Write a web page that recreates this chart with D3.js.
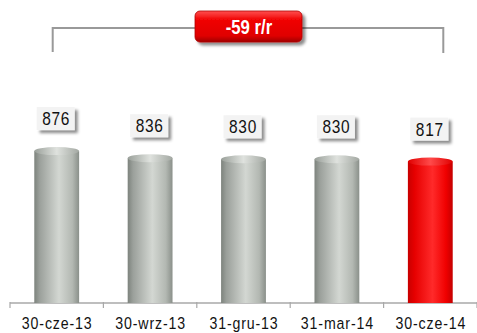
<!DOCTYPE html>
<html lang="pl">
<head>
<meta charset="UTF-8">
<script src="https://d3js.org/d3.v7.min.js"></script>
<style>
  body { margin: 0; background: #fff; }
  svg { display: block; font-family: "Liberation Sans", Arial, sans-serif; }
</style>
</head>
<body>
<svg id="chart" width="477" height="333"></svg>
<script>
// ---- data ----
const categories = ["30-cze-13", "30-wrz-13", "31-gru-13", "31-mar-14", "30-cze-14"];
const values = [876, 836, 830, 830, 817];
const highlightIndex = 4;
const changeLabel = "-59 r/r";

// ---- layout ----
const baseY = 303;
const svg = d3.select("#chart");

const x = d3.scaleBand().domain(categories).range([10, 477]).paddingInner(0.52).paddingOuter(0.26);
const xTicks = d3.scaleBand().domain(categories).range([10, 477]);
const y = d3.scaleLinear().domain([0, 1000]).range([baseY, baseY - 178]);

const defs = svg.append("defs");
const grad = (id, stops) => {
  const g = defs.append("linearGradient").attr("id", id).attr("x1", "0%").attr("x2", "100%").attr("y1", "0%").attr("y2", "0%");
  stops.forEach(([o, c]) => g.append("stop").attr("offset", o).attr("stop-color", c));
};
grad("grayBar", [["0%", "#7d837d"], ["12%", "#9ba09b"], ["55%", "#d3d7d2"], ["85%", "#b3b8b2"], ["100%", "#8a908a"]]);
grad("redBar", [["0%", "#c80000"], ["15%", "#e60000"], ["55%", "#ff2a2a"], ["85%", "#f00000"], ["100%", "#c40000"]]);
grad("grayCap", [["0%", "#9aa09a"], ["50%", "#dfe2de"], ["100%", "#a3a8a2"]]);
grad("redCap", [["0%", "#e00000"], ["50%", "#ff4a4a"], ["100%", "#e00000"]]);

const vg = defs.append("linearGradient").attr("id", "badge").attr("x1", "0").attr("x2", "0").attr("y1", "0").attr("y2", "1");
[["0%", "#ff5050"], ["30%", "#f00000"], ["80%", "#e00000"], ["100%", "#a00000"]].forEach(([o, c]) => vg.append("stop").attr("offset", o).attr("stop-color", c));

const shadow = defs.append("filter").attr("id", "shadow").attr("x", "-20%").attr("y", "-20%").attr("width", "150%").attr("height", "160%");
shadow.append("feDropShadow").attr("dx", 3).attr("dy", 3).attr("stdDeviation", 1.6).attr("flood-color", "#000").attr("flood-opacity", 0.45);

// narrow text: squeeze the glyphs horizontally
const narrow = (sel, sx) => sel.attr("transform", function () {
  const t = d3.select(this);
  return `translate(${t.attr("data-x")},${t.attr("data-y")}) scale(${sx},1)`;
});

// ---- axis ----
svg.append("line").attr("x1", 10).attr("x2", 477).attr("y1", baseY).attr("y2", baseY)
  .attr("stroke", "#a8a8a8").attr("stroke-width", 1.5);
const tickXs = categories.map(c => xTicks(c)).concat([xTicks(categories[categories.length - 1]) + xTicks.bandwidth()]);
svg.selectAll(".tick").data(tickXs).join("line")
  .attr("x1", d => d).attr("x2", d => d).attr("y1", baseY - 1).attr("y2", baseY + 5)
  .attr("stroke", "#a8a8a8").attr("stroke-width", 1.2);

svg.selectAll(".cat").data(categories).join("text")
  .attr("data-x", d => xTicks(d) + xTicks.bandwidth() / 2 + 0.5)
  .attr("data-y", 329)
  .attr("text-anchor", "middle")
  .attr("font-size", 16.5)
  .attr("letter-spacing", 1)
  .attr("fill", "#111")
  .text(d => d)
  .call(narrow, 0.86);

// ---- bars ----
const capRy = 4;
const bars = svg.selectAll(".bar").data(values).join("g");
bars.append("rect")
  .attr("x", (d, i) => x(categories[i]))
  .attr("y", d => y(d) + capRy)
  .attr("width", x.bandwidth())
  .attr("height", d => baseY - y(d) - capRy)
  .attr("fill", (d, i) => i === highlightIndex ? "url(#redBar)" : "url(#grayBar)");
bars.append("ellipse")
  .attr("cx", (d, i) => x(categories[i]) + x.bandwidth() / 2)
  .attr("cy", d => y(d) + capRy)
  .attr("rx", x.bandwidth() / 2)
  .attr("ry", capRy)
  .attr("fill", (d, i) => i === highlightIndex ? "url(#redCap)" : "url(#grayCap)");

// ---- value labels ----
const labelW = 38, labelH = 23;
const labels = svg.selectAll(".val").data(values).join("g")
  .attr("transform", (d, i) => `translate(${x(categories[i]) + x.bandwidth() / 2 - labelW / 2 - 1},${y(d) - 17 - labelH})`);
labels.append("rect").attr("width", labelW).attr("height", labelH)
  .attr("fill", "#f3f3f3").attr("filter", "url(#shadow)");
labels.append("text").attr("data-x", labelW / 2 + 0.5).attr("data-y", 18).attr("text-anchor", "middle")
  .attr("font-size", 18).attr("letter-spacing", 0.8).attr("fill", "#111").text(d => d)
  .call(narrow, 0.86);

// ---- change bracket ----
const x0 = x(categories[0]) + x.bandwidth() / 2 - 4;
const x1 = x(categories[categories.length - 1]) + x.bandwidth() / 2 + 13;
const bY = 28;
svg.append("path")
  .attr("d", `M${x0},52 V${bY} H195 M302,${bY} H${x1} V53`)
  .attr("fill", "none").attr("stroke", "#999").attr("stroke-width", 2);

const badge = svg.append("g").attr("transform", "translate(195,11)");
badge.append("rect").attr("width", 107).attr("height", 31).attr("rx", 5)
  .attr("fill", "url(#badge)").attr("stroke", "#b00000").attr("stroke-width", 0.8)
  .attr("filter", "url(#shadow)");
badge.append("text").attr("data-x", 54).attr("data-y", 22.5).attr("text-anchor", "middle")
  .attr("font-size", 19.5).attr("font-weight", "bold").attr("fill", "#fff").text(changeLabel)
  .call(narrow, 0.86);
</script>
</body>
</html>
